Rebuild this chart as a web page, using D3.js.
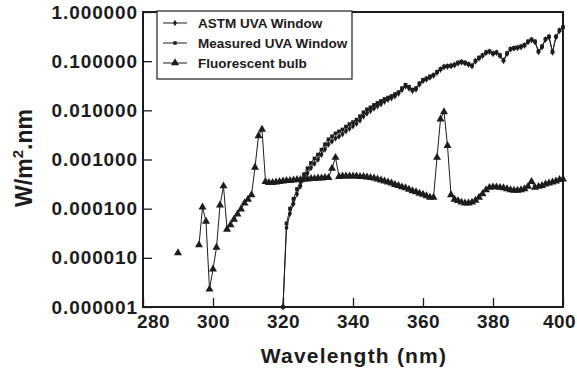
<!DOCTYPE html>
<html><head><meta charset="utf-8">
<script src="https://cdn.jsdelivr.net/npm/d3@7"></script>
<style>
html,body{margin:0;padding:0;background:#fff;}
svg{display:block;font-family:"Liberation Sans",Arial,Helvetica,sans-serif;}
</style></head><body>
<svg id="chart" width="577" height="372"></svg>
<script>
// ---------------- data (log10 of W/m2.nm) ----------------
const uvaWavelengths = d3.range(320, 401); // 320..400 nm
const measuredLog = [
 -6.00,-4.30,-4.00,-3.80,-3.60,-3.44,-3.30,-3.18,-3.07,-2.98,
 -2.90,-2.80,-2.69,-2.59,-2.53,-2.47,-2.43,-2.39,-2.33,-2.28,
 -2.24,-2.19,-2.12,-2.04,-1.98,-1.94,-1.89,-1.85,-1.81,-1.77,
 -1.74,-1.71,-1.67,-1.63,-1.55,-1.48,-1.52,-1.58,-1.55,-1.45,
 -1.38,-1.35,-1.31,-1.28,-1.22,-1.16,-1.11,-1.10,-1.09,-1.07,
 -1.03,-1.01,-1.03,-1.06,-1.09,-0.99,-0.93,-0.88,-0.82,-0.80,
 -0.84,-0.82,-0.88,-0.98,-0.84,-0.75,-0.73,-0.72,-0.70,-0.67,
 -0.60,-0.56,-0.60,-0.80,-0.70,-0.55,-0.50,-0.81,-0.50,-0.37,
 -0.31
];
const astmLog = [
 -6.00,-4.39,-4.10,-3.90,-3.70,-3.54,-3.40,-3.28,-3.17,-3.08,
 -3.00,-2.90,-2.79,-2.69,-2.63,-2.57,-2.53,-2.48,-2.42,-2.37,
 -2.32,-2.27,-2.20,-2.12,-2.06,-2.01,-1.96,-1.91,-1.87,-1.82,
 -1.78,-1.75,-1.71,-1.66,-1.58,-1.51,-1.55,-1.60,-1.57,-1.47,
 -1.40,-1.37,-1.33,-1.29,-1.23,-1.17,-1.12,-1.11,-1.10,-1.08,
 -1.04,-1.02,-1.04,-1.07,-1.10,-1.00,-0.94,-0.89,-0.83,-0.81,
 -0.85,-0.83,-0.89,-0.99,-0.85,-0.76,-0.74,-0.73,-0.71,-0.68,
 -0.61,-0.57,-0.61,-0.81,-0.71,-0.56,-0.51,-0.82,-0.51,-0.38,
 -0.31
];
const bulbWavelengths = d3.range(290, 401); // 290..400 nm
const bulbLog = [
 -4.90, null, null, null, null, null,-4.74,-3.97,-4.26,-5.64,
 -5.23,-4.79,-3.93,-3.54,-4.42,-4.33,-4.22,-4.11,-4.01,-3.89,
 -3.81,-3.72,-3.16,-2.52,-2.39,-3.45,-3.47,-3.47,-3.46,-3.45,
 -3.44,-3.43,-3.43,-3.42,-3.41,-3.41,-3.40,-3.40,-3.39,-3.39,
 -3.38,-3.38,-3.37,-3.37,-3.18,-2.96,-3.35,-3.34,-3.34,-3.34,
 -3.34,-3.34,-3.35,-3.35,-3.36,-3.37,-3.38,-3.40,-3.42,-3.44,
 -3.46,-3.48,-3.51,-3.53,-3.56,-3.58,-3.61,-3.64,-3.66,-3.69,
 -3.71,-3.74,-3.77,-3.77,-2.96,-2.18,-2.03,-2.72,-3.72,-3.81,
 -3.84,-3.87,-3.89,-3.89,-3.87,-3.83,-3.77,-3.70,-3.62,-3.57,
 -3.56,-3.56,-3.57,-3.58,-3.60,-3.62,-3.63,-3.63,-3.62,-3.60,
 -3.55,-3.45,-3.57,-3.55,-3.53,-3.50,-3.48,-3.46,-3.44,-3.41,
 -3.40
];
const seriesNames = ["ASTM UVA Window","Measured UVA Window","Fluorescent bulb"];
const xTicks = [280,300,320,340,360,380,400];
const yTicks = [1e-6,1e-5,1e-4,1e-3,1e-2,1e-1,1];
const yTickLabels = ["0.000001","0.000010","0.000100","0.001000","0.010000","0.100000","1.000000"];
const xTitle = "Wavelength (nm)";

// ---------------- layout ----------------
const L = 143, R = 563, T = 12, B = 307;
const ink = "#1c1c1c";
const svg = d3.select("#chart");
const x = d3.scaleLinear().domain([280,400]).range([L,R]);
const y = d3.scaleLog().domain([1e-6,1]).range([B,T]);

const toPts = (wl, logs) => wl.map((w,i)=>({w, v: logs[i]==null?null:Math.pow(10,logs[i])}));
const astm = toPts(uvaWavelengths, astmLog);
const meas = toPts(uvaWavelengths, measuredLog);
const bulb = toPts(bulbWavelengths, bulbLog);

// axes
const yAxis = d3.axisLeft(y).tickValues(yTicks)
  .tickFormat((d,i)=>yTickLabels[i]).tickSizeInner(-9).tickSizeOuter(0).tickPadding(5);
const xAxis = d3.axisBottom(x).tickValues(xTicks)
  .tickFormat(d3.format("d")).tickSizeInner(-9).tickSizeOuter(0).tickPadding(8);

const gy = svg.append("g").attr("transform",`translate(${L},0)`).call(yAxis);
const gx = svg.append("g").attr("transform",`translate(0,${B})`).call(xAxis);
[gx,gy].forEach(g=>{
  g.select(".domain").remove();
  g.selectAll(".tick line").attr("stroke",ink).attr("stroke-width",1.3);
  g.selectAll("text").attr("fill",ink).style("font-size","19px")
   .style("font-weight","bold").style("letter-spacing","0.9px");
});
// first and last x labels nudged inward, as in the reference
gx.selectAll(".tick text").attr("dx",(d,i)=> i===0 ? 10 : (i===xTicks.length-1 ? -4 : 0))
  .style("letter-spacing","0.5px");

// frame
svg.append("rect").attr("x",L).attr("y",T).attr("width",R-L).attr("height",B-T)
  .attr("fill","none").attr("stroke",ink).attr("stroke-width",2);

// titles
svg.append("text").attr("x",(L+R)/2+1).attr("y",363).attr("text-anchor","middle")
  .attr("fill",ink).style("font-size","21px").style("font-weight","bold")
  .style("letter-spacing","1.2px").text(xTitle);
const yt = svg.append("text").attr("transform","translate(32,158) rotate(-90)")
  .attr("text-anchor","middle").attr("fill",ink)
  .style("font-size","23px").style("font-weight","bold");
yt.append("tspan").text("W/m");
yt.append("tspan").attr("dy",-9).style("font-size","15px").text("2");
yt.append("tspan").attr("dy",9).text(".nm");

// series
const line = d3.line().defined(d=>d.v!=null).x(d=>x(d.w)).y(d=>y(d.v));
const plot = svg.append("g");
function drawSeries(data, sym, size){
  plot.append("path").datum(data).attr("d",line).attr("fill","none")
    .attr("stroke",ink).attr("stroke-width",1);
  plot.selectAll(null).data(data.filter(d=>d.v!=null)).enter().append("path")
    .attr("transform",d=>`translate(${x(d.w)},${y(d.v)})`)
    .attr("d",d3.symbol().type(sym).size(size)).attr("fill",ink);
}
drawSeries(bulb, d3.symbolTriangle, 28);
drawSeries(astm, d3.symbolDiamond, 14);
drawSeries(meas, d3.symbolSquare, 14);

// legend
const lg = svg.append("g");
lg.append("rect").attr("x",157).attr("y",11).attr("width",195).attr("height",68)
  .attr("fill","#fff").attr("stroke",ink).attr("stroke-width",1.2);
const legSyms = [[d3.symbolDiamond,12],[d3.symbolSquare,12],[d3.symbolTriangle,28]];
seriesNames.forEach((name,i)=>{
  const cy = 23 + i*20;
  lg.append("line").attr("x1",163).attr("x2",187).attr("y1",cy).attr("y2",cy)
    .attr("stroke",ink).attr("stroke-width",1);
  lg.append("path").attr("transform",`translate(175,${cy})`)
    .attr("d",d3.symbol().type(legSyms[i][0]).size(legSyms[i][1])).attr("fill",ink);
  lg.append("text").attr("x",198).attr("y",cy+5).attr("fill",ink)
    .style("font-size","13.5px").style("font-weight","bold").text(name);
});
</script>
</body></html>
